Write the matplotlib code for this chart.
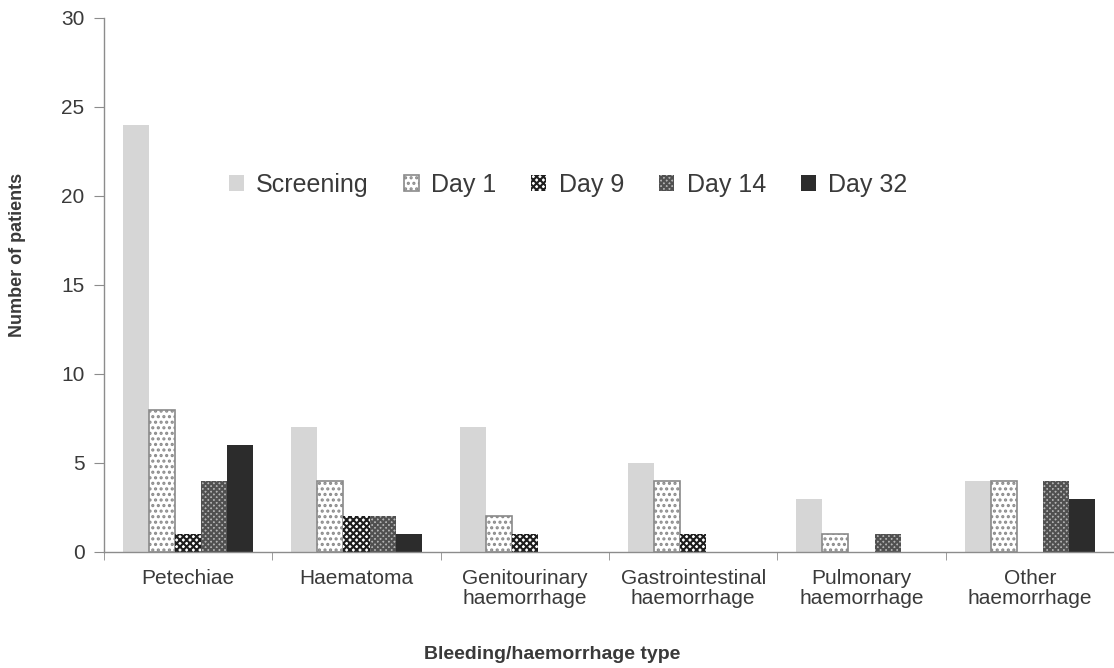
import numpy as np
import matplotlib
matplotlib.use("Agg")
import matplotlib.pyplot as plt

# -- Data ----------------------------------------------------------------------
categories = ["Petechiae", "Haematoma", "Genitourinary\nhaemorrhage",
              "Gastrointestinal\nhaemorrhage", "Pulmonary\nhaemorrhage",
              "Other\nhaemorrhage"]
series_names = ["Screening", "Day 1", "Day 9", "Day 14", "Day 32"]
screening = [24, 7, 7, 5, 3, 4]
day1      = [8, 4, 2, 4, 1, 4]
day9      = [1, 2, 1, 1, 0, 0]
day14     = [4, 2, 0, 0, 1, 4]
day32     = [6, 1, 0, 0, 0, 3]
y_ticks   = [0, 5, 10, 15, 20, 25, 30]

# -- Style ---------------------------------------------------------------------
plt.rcParams["font.family"] = ["Liberation Sans", "DejaVu Sans"]
plt.rcParams["hatch.linewidth"] = 1.5
TEXT = "#3a3a3a"
AXIS = "#8c8c8c"

styles = [
    dict(facecolor="#d6d6d6", edgecolor="#d6d6d6", hatch=None, linewidth=0),
    dict(facecolor="white",   edgecolor="#8a8a8a", hatch="...", linewidth=1.2),
    dict(facecolor="white",   edgecolor="#1e1e1e", hatch="xxxxx", linewidth=0),
    dict(facecolor="#b4b4b4", edgecolor="#505050", hatch="xxxxxx", linewidth=0),
    dict(facecolor="#2c2c2c", edgecolor="#2c2c2c", hatch=None, linewidth=0),
]

fig = plt.figure(figsize=(11.14, 6.68), dpi=100)
ax = fig.add_axes([0.0934, 0.1737, 0.9066, 0.7995])

x = np.arange(len(categories))
width = 0.155
all_series = [screening, day1, day9, day14, day32]
handles = []
for i, (name, vals, st) in enumerate(zip(series_names, all_series, styles)):
    offs = (i - 2) * width
    bars = ax.bar(x + offs, vals, width, label=name, **st)
    handles.append(bars)

ax.set_xlim(-0.5, len(categories) - 0.5)
ax.set_ylim(0, 30)
ax.set_yticks(y_ticks)
ax.set_xticks(x)
ax.set_xticklabels(categories, fontsize=15, color=TEXT, linespacing=1.12)
ax.set_xticks(np.arange(len(categories) + 1) - 0.5, minor=True)
ax.tick_params(axis="x", which="major", length=0, pad=12)
ax.tick_params(axis="x", which="minor", length=6, color=AXIS, direction="out")
ax.tick_params(axis="y", length=7, color=AXIS, labelsize=15, labelcolor=TEXT, pad=7)

for s in ["top", "right"]:
    ax.spines[s].set_visible(False)
for s in ["left", "bottom"]:
    ax.spines[s].set_color(AXIS)
    ax.spines[s].set_linewidth(1.0)

fig.text(0.016, 0.618, "Number of patients", rotation=90, ha="center", va="center",
         fontsize=13, fontweight="bold", color=TEXT)
fig.text(0.496, 0.02, "Bleeding/haemorrhage type", ha="center", va="center",
         fontsize=14, fontweight="bold", color=TEXT)

fig.legend(handles=handles, labels=series_names, loc="center", ncol=5,
           bbox_to_anchor=(0.51, 0.723), frameon=False, fontsize=18,
           handlelength=0.6, handleheight=0.6, handletextpad=0.5,
           columnspacing=1.4, labelcolor=TEXT)

fig.savefig("out.png", dpi=100)
